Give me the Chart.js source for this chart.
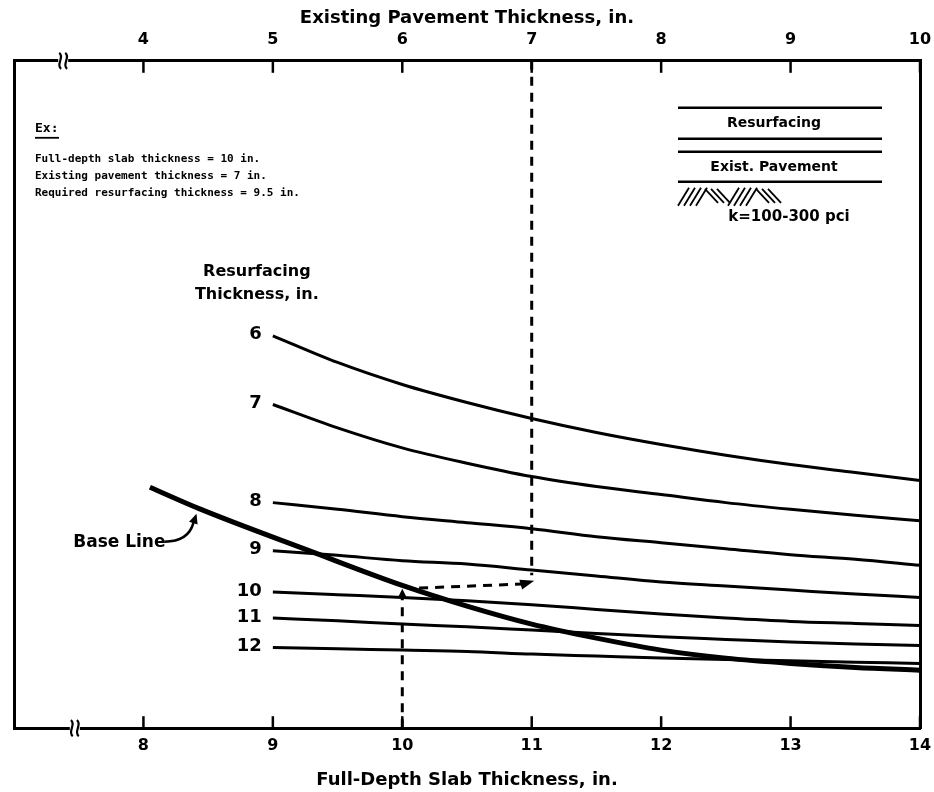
<!DOCTYPE html>
<html>
<head>
<meta charset="utf-8">
<script src="https://cdn.jsdelivr.net/npm/chart.js@4.4.1/dist/chart.umd.min.js"></script>
<style>
  html, body { margin: 0; padding: 0; background: #fff; }
  #wrap { width: 934px; height: 792px; }
</style>
</head>
<body>
<div id="wrap"><canvas id="chart"></canvas></div>
<script>
// --- axis ticks ---
const slabTicks = [8, 9, 10, 11, 12, 13, 14];          // bottom: full-depth slab, in.
const pavementTicks = [4, 5, 6, 7, 8, 9, 10];          // top: existing pavement, in.

// --- resurfacing curves (y is an unlabeled chart unit, 0 = bottom frame, 100 = top frame) ---
const curveLabels = ['6', '7', '8', '9', '10', '11', '12'];
const slabX = [9, 9.5, 10, 10.5, 11, 11.5, 12, 12.5, 13, 13.5, 14];
const resurf6  = [58.8, 54.8, 51.5, 48.8, 46.4, 44.3, 42.5, 40.9, 39.5, 38.3, 37.1];
const resurf7  = [48.5, 45.0, 42.0, 39.7, 37.7, 36.2, 35.0, 33.8, 32.8, 31.9, 31.1];
const resurf8  = [33.8, 32.8, 31.7, 30.8, 29.9, 28.7, 27.8, 26.9, 26.0, 25.3, 24.4];
const resurf9  = [26.6, 25.9, 25.1, 24.6, 23.7, 22.8, 21.9, 21.3, 20.7, 20.1, 19.6];
const resurf10 = [20.4, 20.0, 19.6, 19.1, 18.5, 17.8, 17.1, 16.5, 16.0, 15.7, 15.4];
const resurf11 = [16.5, 16.1, 15.6, 15.2, 14.7, 14.2, 13.7, 13.3, 12.9, 12.6, 12.4];
const resurf12 = [12.1, 11.9, 11.7, 11.5, 11.1, 10.8, 10.5, 10.3, 10.1, 9.9, 9.7];

// --- base line ---
const baseX = [8.05, 8.43, 9.28, 10, 10.5, 11, 11.5, 12, 12.5, 13, 13.5, 14];
const baseY = [36.1, 32.9, 26.6, 21.4, 18.3, 15.6, 13.5, 11.7, 10.5, 9.7, 9.1, 8.7];

// --- worked example (dashed path) ---
const exUpX = [10, 10],       exUpY = [0, 20.3];
const exAcrossX = [10.13, 10.93], exAcrossY = [21.0, 21.6];
const exTopX = [7, 7],        exTopY = [100, 22.9];   // on the top (existing pavement) axis

const exampleLines = [
    'Full-depth slab thickness = 10 in.',
    'Existing pavement thickness = 7 in.',
    'Required resurfacing thickness = 9.5 in.'
];

const BOLD = 'DejaVu Sans';
const MONO = 'DejaVu Sans Mono';

const curves = [resurf6, resurf7, resurf8, resurf9, resurf10, resurf11, resurf12];

const toPts = (xs, ys) => xs.map((x, i) => ({ x, y: ys[i] }));

const datasets = curves.map((ys, i) => ({
    label: curveLabels[i],
    data: toPts(slabX, ys),
    borderColor: '#000',
    borderWidth: 3,
    cubicInterpolationMode: 'monotone',
    xAxisID: 'x'
}));

datasets.push({
    label: 'Base Line',
    data: toPts(baseX, baseY),
    borderColor: '#000',
    borderWidth: 5,
    cubicInterpolationMode: 'monotone',
    xAxisID: 'x'
});

const dashStyle = { borderColor: '#000', borderWidth: 3, borderDash: [9, 7], tension: 0 };
datasets.push({ label: 'ex-up', data: toPts(exUpX, exUpY), xAxisID: 'x', ...dashStyle });
datasets.push({ label: 'ex-across', data: toPts(exAcrossX, exAcrossY), xAxisID: 'x', ...dashStyle });
datasets.push({ label: 'ex-top', data: toPts(exTopX, exTopY), xAxisID: 'x2', ...dashStyle });

function arrowHead(ctx, tx, ty, fx, fy, len, half) {
    const ang = Math.atan2(ty - fy, tx - fx);
    ctx.beginPath();
    ctx.moveTo(tx, ty);
    ctx.lineTo(tx - len * Math.cos(ang) + half * Math.sin(ang), ty - len * Math.sin(ang) - half * Math.cos(ang));
    ctx.lineTo(tx - len * Math.cos(ang) - half * Math.sin(ang), ty - len * Math.sin(ang) + half * Math.cos(ang));
    ctx.closePath();
    ctx.fill();
}

function breakMark(ctx, px, py) {
    ctx.save();
    ctx.fillStyle = '#fff';
    ctx.fillRect(px - 5, py - 4, 10, 8);
    ctx.lineWidth = 2.2;
    [-3, 3].forEach(dx => {
        ctx.beginPath();
        ctx.moveTo(px + dx - 1, py - 8);
        ctx.bezierCurveTo(px + dx + 5, py - 4, px + dx - 5, py + 4, px + dx + 1, py + 8);
        ctx.stroke();
    });
    ctx.restore();
}

const annotate = {
    id: 'annotate',
    afterDatasetsDraw(chart) {
        const { ctx, chartArea: a, scales: { x, x2, y } } = chart;
        ctx.save();
        ctx.strokeStyle = '#000';
        ctx.fillStyle = '#000';

        // inside tick marks
        ctx.lineWidth = 2.5;
        slabTicks.forEach(v => {
            const px = x.getPixelForValue(v);
            ctx.beginPath(); ctx.moveTo(px, a.bottom); ctx.lineTo(px, a.bottom - 12); ctx.stroke();
        });
        pavementTicks.forEach(v => {
            const px = x2.getPixelForValue(v);
            ctx.beginPath(); ctx.moveTo(px, a.top); ctx.lineTo(px, a.top + 12); ctx.stroke();
        });

        // axis breaks
        breakMark(ctx, x.getPixelForValue(7.47), a.bottom);
        breakMark(ctx, x2.getPixelForValue(3.38), a.top);

        // curve labels at the start of each curve
        ctx.font = `bold 18px "${BOLD}"`;
        ctx.textAlign = 'right';
        ctx.textBaseline = 'middle';
        curves.forEach((ys, i) => {
            ctx.fillText(curveLabels[i], x.getPixelForValue(slabX[0]) - 11, y.getPixelForValue(ys[0]) - 1);
        });

        // "Resurfacing Thickness, in." heading
        const hx = x.getPixelForValue(slabX[0]) - 16;
        ctx.textAlign = 'center';
        ctx.font = `bold 16px "${BOLD}"`;
        ctx.fillText('Resurfacing', hx, y.getPixelForValue(resurf6[0]) - 64);
        ctx.fillText('Thickness, in.', hx, y.getPixelForValue(resurf6[0]) - 41);

        // example arrowheads
        const upTipX = x.getPixelForValue(exUpX[1]);
        const upTipY = y.getPixelForValue(exUpY[1]) - 4;
        arrowHead(ctx, upTipX, upTipY, upTipX, upTipY + 10, 9, 4.5);
        const axEndX = x.getPixelForValue(exAcrossX[1]), axEndY = y.getPixelForValue(exAcrossY[1]);
        const axStartX = x.getPixelForValue(exAcrossX[0]), axStartY = y.getPixelForValue(exAcrossY[0]);
        const ang = Math.atan2(axEndY - axStartY, axEndX - axStartX) - 0.25;
        arrowHead(ctx, axEndX + 12 * Math.cos(ang), axEndY + 12 * Math.sin(ang), axEndX, axEndY, 14, 5);

        // Base Line label and curved pointer
        const tipX = x.getPixelForValue(8.41), tipY = y.getPixelForValue(32.9) + 5;
        ctx.font = `bold 17px "${BOLD}"`;
        ctx.textAlign = 'right';
        ctx.fillText('Base Line', tipX - 31, tipY + 29);
        ctx.lineWidth = 2.5;
        ctx.beginPath();
        ctx.moveTo(tipX - 32, tipY + 28);
        ctx.quadraticCurveTo(tipX - 8, tipY + 28, tipX - 3, tipY + 9);
        ctx.stroke();
        arrowHead(ctx, tipX, tipY, tipX - 3, tipY + 9, 10, 4.5);

        // worked example text
        ctx.textAlign = 'left';
        ctx.font = `bold 13px "${MONO}"`;
        const exX = a.left + 21;
        ctx.fillText('Ex:', exX, a.top + 68);
        ctx.lineWidth = 1.8;
        ctx.beginPath(); ctx.moveTo(exX, a.top + 77); ctx.lineTo(exX + 24, a.top + 77); ctx.stroke();
        ctx.font = `bold 11px "${MONO}"`;
        exampleLines.forEach((t, i) => ctx.fillText(t, exX, a.top + 98 + i * 17));

        // layer sketch, top right
        const lx0 = a.right - 242, lx1 = a.right - 38;
        ctx.lineWidth = 2.5;
        [47, 78, 91, 121].forEach(dy => {
            ctx.beginPath(); ctx.moveTo(lx0, a.top + dy); ctx.lineTo(lx1, a.top + dy); ctx.stroke();
        });
        ctx.textAlign = 'center';
        ctx.font = `bold 14px "${BOLD}"`;
        ctx.fillText('Resurfacing', a.right - 146, a.top + 63);
        ctx.fillText('Exist. Pavement', a.right - 146, a.top + 107);
        ctx.font = `bold 15px "${BOLD}"`;
        ctx.fillText('k=100-300 pci', a.right - 131, a.top + 156);

        // subgrade hatch
        const hy0 = a.top + 127, hy1 = a.top + 145;
        ctx.lineWidth = 1.8;
        const hatch = (sx, n, dir) => {
            for (let k = 0; k < n; k++) {
                const bx = sx + k * 6;
                ctx.beginPath();
                if (dir > 0) { ctx.moveTo(bx, hy1); ctx.lineTo(bx + 11, hy0); }
                else { ctx.moveTo(bx, hy0 + 1); ctx.lineTo(bx + 13, hy1 - 3); }
                ctx.stroke();
            }
        };
        hatch(lx0, 4, 1);
        hatch(lx0 + 27, 3, -1);
        hatch(lx0 + 50, 4, 1);
        hatch(lx0 + 78, 3, -1);

        ctx.restore();
    }
};

const tickFont = { family: BOLD, size: 16, weight: 'bold' };
const titleFont = { family: BOLD, size: 18, weight: 'bold' };
// the outer tick labels may hang past the frame, as on the drawing
const noOverhang = s => { s.paddingLeft = 0; s.paddingRight = 0; };

new Chart(document.getElementById('chart'), {
    type: 'scatter',
    data: { datasets },
    options: {
        responsive: true,
        maintainAspectRatio: false,
        animation: false,
        showLine: true,
        layout: { padding: { left: 14, right: 14, top: 0, bottom: 0 } },
        elements: { point: { radius: 0, hoverRadius: 0 } },
        plugins: { legend: { display: false }, tooltip: { enabled: false } },
        scales: {
            x: {
                type: 'linear', position: 'bottom', min: 7, max: 14,
                afterBuildTicks: s => { s.ticks = slabTicks.map(v => ({ value: v })); },
                afterFit: noOverhang,
                ticks: { font: tickFont, color: '#000', padding: 8, maxRotation: 0 },
                grid: { drawOnChartArea: false, drawTicks: false },
                border: { color: '#000', width: 3 },
                title: { display: true, text: 'Full-Depth Slab Thickness, in.', font: titleFont, color: '#000', padding: { top: 6, bottom: 1 } }
            },
            x2: {
                type: 'linear', position: 'top', min: 3, max: 10,
                afterBuildTicks: s => { s.ticks = pavementTicks.map(v => ({ value: v })); },
                afterFit: noOverhang,
                ticks: { font: tickFont, color: '#000', padding: 11, maxRotation: 0 },
                grid: { drawOnChartArea: false, drawTicks: false },
                border: { color: '#000', width: 3 },
                title: { display: true, text: 'Existing Pavement Thickness, in.', font: titleFont, color: '#000', padding: { top: 8, bottom: -10 } }
            },
            y: {
                type: 'linear', position: 'left', min: 0, max: 100,
                ticks: { display: false },
                grid: { drawOnChartArea: false, drawTicks: false },
                border: { color: '#000', width: 3 }
            },
            y2: {
                type: 'linear', position: 'right', min: 0, max: 100,
                ticks: { display: false },
                grid: { drawOnChartArea: false, drawTicks: false },
                border: { color: '#000', width: 3 }
            }
        }
    },
    plugins: [annotate]
});
</script>
</body>
</html>
